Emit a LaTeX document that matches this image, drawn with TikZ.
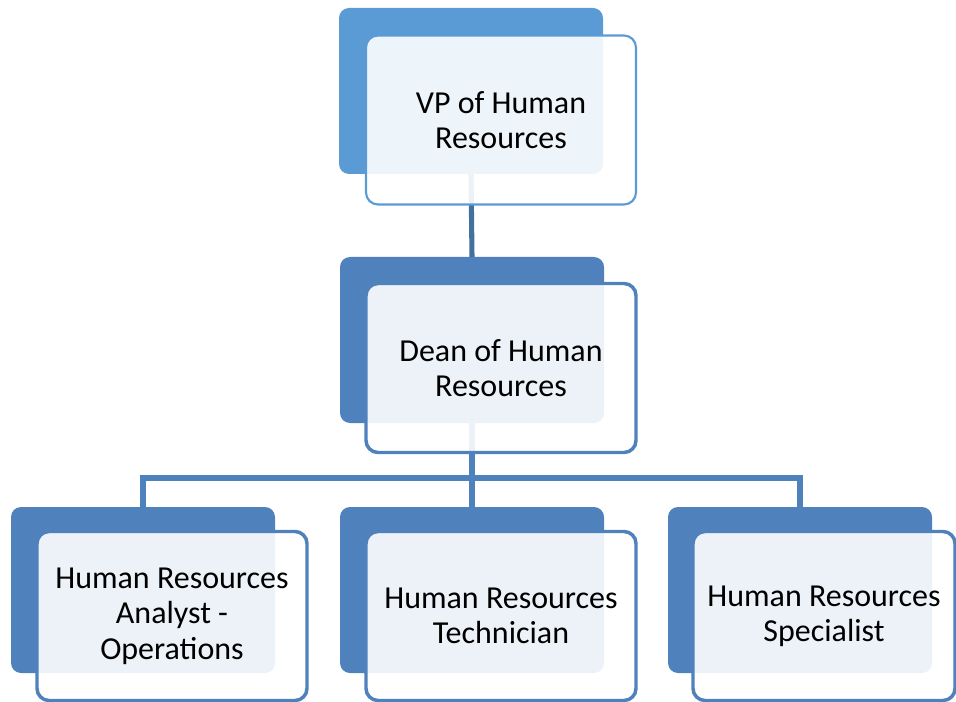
\documentclass[tikz,border=0pt]{standalone}
\usepackage{fontspec}
\setmainfont{Carlito}
\definecolor{hrtop}{HTML}{5B9BD5}
\definecolor{hrblue}{HTML}{4F81BD}
\definecolor{hrline}{HTML}{41719C}
\tikzset{
  backbox/.style={fill=hrblue, rounded corners=7.5pt, inner sep=0pt, outer sep=0pt,
    minimum width=198pt, minimum height=124.5pt},
  frontbox/.style={draw=hrblue, line width=2.6pt, fill=white, fill opacity=0.9, text opacity=1,
    rounded corners=9pt, inner sep=0pt, outer sep=0pt, align=center,
    minimum width=202.5pt, minimum height=126.75pt,
    font=\fontsize{24}{26.5}\selectfont},
  link/.style={draw=hrblue, line width=3.8pt}
}
\begin{document}
\begin{tikzpicture}[x=0.75pt,y=-0.75pt]
\useasboundingbox (0,0) rectangle (956,702);

\node[backbox, fill=hrtop] (vpback) at (471,91) {};
\node[backbox] (deanback) at (472,340) {};
\node[backbox] (analystback) at (143,590) {};
\node[backbox] (techback) at (472,590) {};
\node[backbox] (specback) at (800,590) {};

\coordinate (bus) at (472,478);
\draw[link, draw=hrline] (vpback.south) -- (deanback.north);
\draw[link] (deanback.south) -- (bus);
\draw[link] (bus) -| (analystback.north);
\draw[link] (bus) -| (specback.north);
\draw[link] (bus) -- (techback.north);

\node[frontbox, draw=hrtop, line width=1.6pt] (vp) at (501,120) {VP of Human\\Resources};
\node[frontbox] (dean) at (501,368) {Dean of Human\\Resources};
\node[frontbox] (analyst) at (172,616) {Human Resources\\Analyst -\\Operations};
\node[frontbox] (tech) at (501,616) {Human Resources\\Technician};
\node[frontbox, minimum width=196.5pt] (spec) at (824,616) {Human Resources\\Specialist};
\end{tikzpicture}
\end{document}
